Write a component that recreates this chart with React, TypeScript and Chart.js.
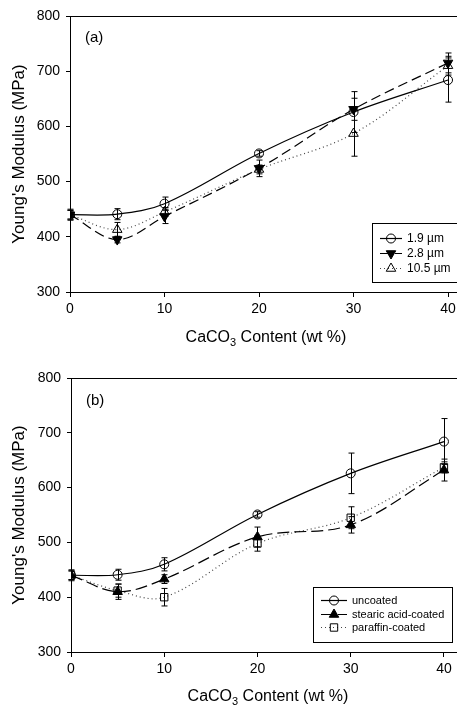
import React, { useEffect, useRef } from "react";
import { Chart, registerables } from "chart.js";

Chart.register(...registerables);

// ---- data ----
const caco3Content = [0, 5, 10, 20, 30, 40];
const xTickValues = [0, 10, 20, 30, 40];

// panel (a): particle size
const size19 = [440, 441, 460, 551, 626, 684];
const size19Err = [10, 10, 12, 5, 37, 40];
const size28 = [440, 395, 437, 524, 631, 715];
const size28Err = [8, 6, 13, 15, 20, 18];
const size105 = [440, 413, 445, 522, 587, 710];
const size105Err = [8, 13, 8, 8, 41, 17];

// panel (b): coating
const uncoated = [440, 441, 460, 551, 626, 684];
const uncoatedErr = [10, 10, 12, 5, 37, 42];
const stearic = [440, 410, 433, 510, 532, 632];
const stearicErr = [8, 14, 8, 18, 15, 20];
const paraffin = [440, 412, 400, 498, 545, 637];
const paraffinErr = [8, 12, 16, 14, 20, 10];

const labelsA = ["1.9 \u00b5m", "2.8 \u00b5m", "10.5 \u00b5m"];
const labelsB = ["uncoated", "stearic acid-coated", "paraffin-coated"];

const FONT = "'Liberation Sans', Arial, sans-serif";

type Marker = "circle" | "triangle" | "triangleDown" | "square";

interface SeriesSpec {
  label: string;
  values: number[];
  errors: number[];
  dash: number[];
  color: string;
  marker: Marker;
  filled: boolean;
}

function drawMarker(ctx: CanvasRenderingContext2D, m: Marker, x: number, y: number, filled: boolean) {
  ctx.beginPath();
  if (m === "circle") {
    ctx.arc(x, y, 4.5, 0, Math.PI * 2);
  } else if (m === "square") {
    ctx.rect(x - 3.7, y - 3.7, 7.4, 7.4);
  } else {
    const r = 5.5;
    const dir = m === "triangle" ? 1 : -1;
    ctx.moveTo(x, y - dir * r);
    ctx.lineTo(x + r * 0.866, y + dir * r * 0.5);
    ctx.lineTo(x - r * 0.866, y + dir * r * 0.5);
    ctx.closePath();
  }
  ctx.setLineDash([]);
  ctx.lineWidth = 1;
  ctx.strokeStyle = "#000";
  if (filled) {
    ctx.fillStyle = "#000";
    ctx.fill();
  }
  ctx.stroke();
}

interface PanelSpec {
  series: SeriesSpec[];
  height: number;
  top: number;
  yAxisWidth: number;
  xAxisHeight: number;
  xMax: number;
  panelLabel: string;
  panelLabelX: number;
  panelLabelY: number;
  xTitleX: number;
  xTitleY: number;
  legend: {
    x1: number; y1: number; x2: number; y2: number;
    lineX1: number; lineX2: number; textX: number; rows: number[]; font: number;
  };
}

function buildChart(canvas: HTMLCanvasElement, p: PanelSpec) {
  const decor = {
    id: "decor",
    afterDatasetsDraw(chart: any) {
      const ctx = chart.ctx as CanvasRenderingContext2D;
      const xs = chart.scales.x;
      const ys = chart.scales.y;
      ctx.save();
      ctx.strokeStyle = "#000";
      ctx.lineWidth = 1;
      ctx.setLineDash([]);
      p.series.forEach((s) => {
        s.errors.forEach((e, j) => {
          const x = Math.round(xs.getPixelForValue(caco3Content[j])) + 0.5;
          const yT = ys.getPixelForValue(s.values[j] + e);
          const yB = ys.getPixelForValue(s.values[j] - e);
          ctx.beginPath();
          ctx.moveTo(x, yT);
          ctx.lineTo(x, yB);
          ctx.moveTo(x - 3, yT);
          ctx.lineTo(x + 3, yT);
          ctx.moveTo(x - 3, yB);
          ctx.lineTo(x + 3, yB);
          ctx.stroke();
        });
      });
      ctx.restore();
    },
    afterDraw(chart: any) {
      const ctx = chart.ctx as CanvasRenderingContext2D;
      const a = chart.chartArea;
      ctx.save();
      // top frame line
      ctx.strokeStyle = "#000";
      ctx.lineWidth = 1;
      ctx.beginPath();
      ctx.moveTo(a.left, Math.round(a.top) + 0.5);
      ctx.lineTo(a.right, Math.round(a.top) + 0.5);
      ctx.stroke();

      ctx.fillStyle = "#000";
      // panel label
      ctx.font = `15px ${FONT}`;
      ctx.textAlign = "left";
      ctx.textBaseline = "middle";
      ctx.fillText(p.panelLabel, p.panelLabelX, p.panelLabelY);

      // y title
      ctx.save();
      ctx.translate(19, (a.top + a.bottom) / 2);
      ctx.rotate(-Math.PI / 2);
      ctx.textAlign = "center";
      ctx.textBaseline = "middle";
      ctx.font = `17px ${FONT}`;
      ctx.fillText("Young's Modulus (MPa)", 0, 0);
      ctx.restore();

      // x title with subscript
      const big = `16px ${FONT}`;
      const small = `11px ${FONT}`;
      const p1 = "CaCO";
      const p2 = "3";
      const p3 = " Content (wt %)";
      ctx.font = big;
      const w1 = ctx.measureText(p1).width;
      const w3 = ctx.measureText(p3).width;
      ctx.font = small;
      const w2 = ctx.measureText(p2).width;
      let tx = p.xTitleX - (w1 + w2 + w3) / 2;
      ctx.textAlign = "left";
      ctx.textBaseline = "middle";
      ctx.font = big;
      ctx.fillText(p1, tx, p.xTitleY);
      tx += w1;
      ctx.font = small;
      ctx.fillText(p2, tx, p.xTitleY + 5);
      tx += w2;
      ctx.font = big;
      ctx.fillText(p3, tx, p.xTitleY);

      // legend
      const L = p.legend;
      ctx.fillStyle = "#fff";
      ctx.fillRect(L.x1, L.y1, L.x2 - L.x1, L.y2 - L.y1);
      ctx.strokeStyle = "#000";
      ctx.lineWidth = 1;
      ctx.setLineDash([]);
      ctx.strokeRect(L.x1 + 0.5, L.y1 + 0.5, L.x2 - L.x1, L.y2 - L.y1);
      p.series.forEach((s, i) => {
        const y = L.rows[i];
        ctx.strokeStyle = s.color;
        ctx.lineWidth = 1.2;
        ctx.setLineDash(s.dash);
        ctx.beginPath();
        ctx.moveTo(L.lineX1, y + 0.5);
        ctx.lineTo(L.lineX2, y + 0.5);
        ctx.stroke();
        drawMarker(ctx, s.marker, (L.lineX1 + L.lineX2) / 2, y + 0.5, s.filled);
        ctx.fillStyle = "#000";
        ctx.font = `${L.font}px ${FONT}`;
        ctx.textAlign = "left";
        ctx.textBaseline = "middle";
        ctx.fillText(s.label, L.textX, y + 1);
      });
      ctx.restore();
    },
  };

  const styleMap: Record<Marker, { style: string; rot: number; r: number }> = {
    circle: { style: "circle", rot: 0, r: 4.5 },
    triangle: { style: "triangle", rot: 0, r: 5.5 },
    triangleDown: { style: "triangle", rot: 180, r: 5.5 },
    square: { style: "rect", rot: 0, r: 5.2 },
  };

  return new Chart(canvas, {
    type: "line",
    data: {
      datasets: p.series.map((s) => ({
        label: s.label,
        data: caco3Content.map((x, i) => ({ x, y: s.values[i] })),
        borderColor: s.color,
        borderWidth: 1.2,
        borderDash: s.dash,
        tension: 0.35,
        fill: false,
        pointStyle: styleMap[s.marker].style as any,
        pointRotation: styleMap[s.marker].rot,
        pointRadius: styleMap[s.marker].r,
        pointBorderColor: "#000",
        pointBorderWidth: 1,
        pointBackgroundColor: s.filled ? "#000" : "rgba(0,0,0,0)",
      })),
    },
    options: {
      responsive: false,
      animation: false,
      devicePixelRatio: 1,
      layout: { autoPadding: false, padding: { top: p.top, left: 0, right: 0, bottom: 0 } },
      plugins: { legend: { display: false }, tooltip: { enabled: false } },
      scales: {
        x: {
          type: "linear",
          min: 0,
          max: p.xMax,
          afterBuildTicks: (scale: any) => {
            scale.ticks = xTickValues.map((v) => ({ value: v }));
          },
          afterFit: (scale: any) => {
            scale.height = p.xAxisHeight;
            scale.paddingLeft = 0;
            scale.paddingRight = 0;
          },
          grid: { display: true, drawOnChartArea: false, drawTicks: true, tickLength: 5, color: "#000" },
          border: { display: true, color: "#000", width: 1 },
          ticks: { color: "#000", font: { family: FONT, size: 14 }, padding: 4, maxRotation: 0 },
        },
        y: {
          type: "linear",
          min: 300,
          max: 800,
          afterFit: (scale: any) => {
            scale.width = p.yAxisWidth;
            scale.paddingTop = 0;
            scale.paddingBottom = 0;
          },
          grid: { display: true, drawOnChartArea: false, drawTicks: true, tickLength: 4, color: "#000" },
          border: { display: true, color: "#000", width: 1 },
          ticks: { color: "#000", font: { family: FONT, size: 14 }, padding: 6, stepSize: 100 },
        },
      },
    },
    plugins: [decor],
  } as any);
}

const panelA: PanelSpec = {
  series: [
    { label: labelsA[0], values: size19, errors: size19Err, dash: [], color: "#000", marker: "circle", filled: false },
    { label: labelsA[1], values: size28, errors: size28Err, dash: [10, 5], color: "#000", marker: "triangleDown", filled: true },
    { label: labelsA[2], values: size105, errors: size105Err, dash: [1, 3], color: "#444", marker: "triangle", filled: false },
  ],
  height: 356,
  top: 16,
  yAxisWidth: 70,
  xAxisHeight: 64,
  xMax: 40.95,
  panelLabel: "(a)",
  panelLabelX: 85,
  panelLabelY: 38,
  xTitleX: 266,
  xTitleY: 338,
  legend: { x1: 372, y1: 223, x2: 470, y2: 282, lineX1: 380, lineX2: 402, textX: 407, rows: [238, 253, 268], font: 12 },
};

const panelB: PanelSpec = {
  series: [
    { label: labelsB[0], values: uncoated, errors: uncoatedErr, dash: [], color: "#000", marker: "circle", filled: false },
    { label: labelsB[1], values: stearic, errors: stearicErr, dash: [12, 5], color: "#000", marker: "triangle", filled: true },
    { label: labelsB[2], values: paraffin, errors: paraffinErr, dash: [1, 3], color: "#444", marker: "square", filled: false },
  ],
  height: 365,
  top: 38,
  yAxisWidth: 71,
  xAxisHeight: 53,
  xMax: 41.4,
  panelLabel: "(b)",
  panelLabelX: 86,
  panelLabelY: 61,
  xTitleX: 268,
  xTitleY: 357,
  legend: { x1: 313, y1: 247, x2: 452, y2: 302, lineX1: 321, lineX2: 347, textX: 352, rows: [260, 274, 287], font: 11 },
};

function Panel({ spec, offset }: { spec: PanelSpec; offset: number }) {
  const ref = useRef<HTMLCanvasElement | null>(null);
  useEffect(() => {
    if (!ref.current) return;
    const chart = buildChart(ref.current, spec);
    return () => chart.destroy();
  }, [spec]);
  return (
    <canvas
      ref={ref}
      width={457}
      height={spec.height}
      style={{ position: "absolute", left: 0, top: offset, width: 457, height: spec.height, display: "block" }}
    />
  );
}

export default function App() {
  return (
    <div style={{ position: "absolute", left: 0, top: 0, width: 457, height: 705, background: "#fff" }}>
      <Panel spec={panelA} offset={0} />
      <Panel spec={panelB} offset={340} />
    </div>
  );
}
